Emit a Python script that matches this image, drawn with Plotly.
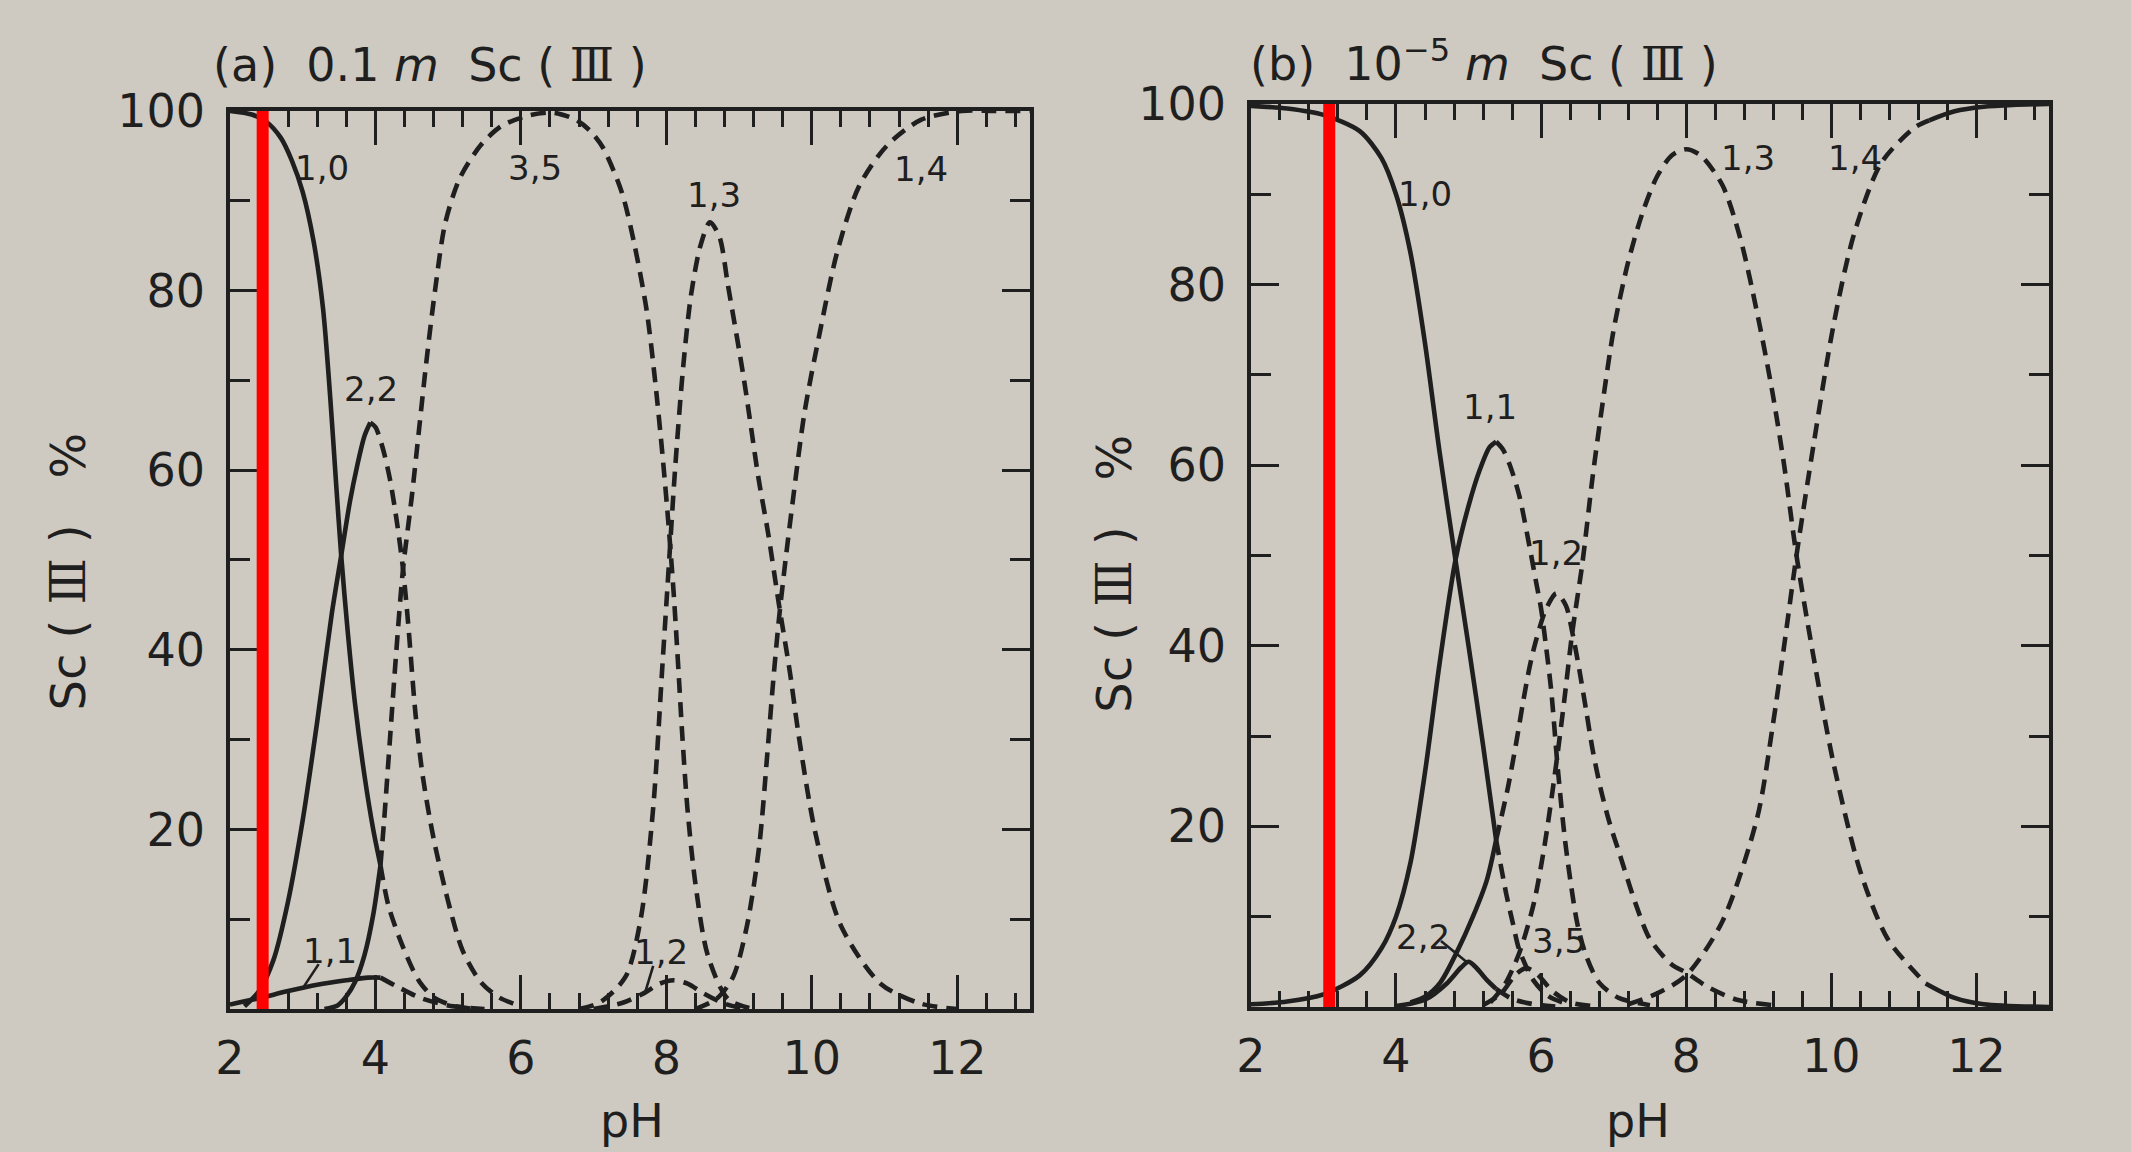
import plotly.graph_objects as go

# ---------------- panel (a): 0.1 m Sc(III) ----------------
a_10_ph = [2.0, 2.3, 2.5, 2.7, 2.85, 3.0, 3.15, 3.28, 3.38, 3.46, 3.53, 3.62, 3.72, 3.85, 3.97, 4.07]
a_10_pct = [100, 99.6, 98.8, 97, 94.5, 91, 85.5, 78, 68, 58.5, 50.5, 42, 34, 26, 20, 16]
a_10d_ph = [4.07, 4.18, 4.35, 4.52, 4.61, 4.8, 5.1, 5.4]
a_10d_pct = [16, 11.5, 7.5, 4.3, 3.0, 1.3, 0.3, 0]

a_22_ph = [2.2, 2.4, 2.6, 2.8, 3.0, 3.2, 3.4, 3.53, 3.65, 3.75, 3.85, 3.93]
a_22_pct = [0.3, 2.0, 5.5, 12, 21, 32, 44, 50.5, 56.5, 60.5, 63.8, 65.3]
a_22d_ph = [3.93, 4.0, 4.1, 4.2, 4.3, 4.38, 4.45, 4.55, 4.65, 4.8, 5.0, 5.2, 5.45, 5.7, 6.0]
a_22d_pct = [65.3, 64.8, 62.5, 59, 54, 49, 43, 33, 26, 19, 12, 6.5, 3.0, 1.3, 0.3]

a_11_ph = [2.0, 2.4, 2.8, 3.2, 3.6, 3.9, 4.07]
a_11_pct = [0.5, 1.2, 2.0, 2.7, 3.2, 3.5, 3.5]
a_11d_ph = [4.07, 4.3, 4.6, 5.0, 5.5]
a_11d_pct = [3.5, 2.5, 1.3, 0.4, 0]

a_35_ph = [3.3, 3.48, 3.6, 3.72, 3.85, 3.97, 4.07]
a_35_pct = [0, 0.4, 1.4, 3.0, 6.0, 10.5, 16]
a_35d_ph = [4.07, 4.12, 4.2, 4.28, 4.38, 4.5, 4.6, 4.7, 4.82, 4.96, 5.16, 5.45, 5.73, 6.11, 6.45,
            6.76, 6.95, 7.13, 7.39, 7.56, 7.73, 7.85, 7.95, 8.03, 8.1, 8.16, 8.22, 8.29, 8.4, 8.57, 8.85, 9.2]
a_35d_pct = [16, 21, 30, 39, 49, 57, 64.5, 72, 80, 87.5, 92.5, 96.2, 98.3, 99.5, 99.8,
             99.0, 97.8, 95.9, 90.9, 85.2, 77.8, 69.7, 61.5, 54, 46.5, 38.7, 30.5, 22.4, 14, 6, 1.1, 0]

a_12d_ph = [7.0, 7.4, 7.7, 7.9, 8.1, 8.3, 8.5, 8.8, 9.1]
a_12d_pct = [0, 0.7, 1.8, 2.8, 3.2, 2.8, 1.8, 0.6, 0]

a_13d_ph = [6.8, 7.1, 7.44, 7.65, 7.82, 7.95, 8.04, 8.12, 8.23, 8.34, 8.47, 8.6, 8.73, 8.85, 9.07,
            9.27, 9.4, 9.55, 9.7, 9.82, 10.04, 10.4, 10.95, 11.5, 12.0]
a_13d_pct = [0, 0.8, 3.6, 10.1, 22.4, 38.7, 50, 60, 71.3, 79.5, 85, 87.6, 86, 80.5, 70,
             59, 53, 45, 37.5, 30.5, 20, 9.3, 2.8, 0.6, 0]

a_14d_ph = [8.4, 8.7, 8.92, 9.11, 9.28, 9.39, 9.47, 9.55, 9.64, 9.74, 9.9, 10.11, 10.35, 10.65,
            11.03, 11.5, 12.06, 12.5, 13.0]
a_14d_pct = [0, 1.2, 3.6, 9.3, 18.3, 28.5, 36.5, 43.5, 50, 56.6, 66.4, 75.3, 84.3, 91.6,
             96.1, 99, 100, 100, 100]

a_label_text = ["1,0", "2,2", "1,1", "3,5", "1,2", "1,3", "1,4"]
a_label_ph = [3.27, 3.94, 3.37, 6.19, 7.93, 8.66, 11.5]
a_label_pct = [93.6, 69.0, 6.5, 93.6, 6.3, 90.6, 93.5]

# leader lines: label -> point on curve
a_leader_from = [(3.22, 5.0), (7.82, 4.8)]
a_leader_to = [(3.0, 2.3), (7.7, 1.6)]

# ---------------- panel (b): 1e-5 m Sc(III) ----------------
b_10_ph = [2.0, 2.5, 3.0, 3.5, 3.8, 4.0, 4.2, 4.4, 4.6, 4.82, 5.0, 5.2, 5.38]
b_10_pct = [99.8, 99.5, 98.8, 97, 94, 90, 83.5, 73.5, 61.5, 49.5, 40, 29, 18.5]
b_10d_ph = [5.38, 5.52, 5.61, 5.7, 5.89, 6.1, 6.4]
b_10d_pct = [18.5, 12.5, 9.3, 6.3, 3.0, 1.2, 0.2]

b_11_ph = [2.0, 2.5, 3.0, 3.5, 3.8, 4.0, 4.2, 4.4, 4.6, 4.82, 5.0, 5.16, 5.29, 5.38]
b_11_pct = [0.3, 0.6, 1.4, 3.5, 6.5, 10, 16, 26, 38, 49.5, 55.5, 59.6, 62, 62.6]
b_11d_ph = [5.38, 5.47, 5.57, 5.7, 5.84, 5.93, 6.0, 6.07, 6.14, 6.23, 6.34, 6.5, 6.62, 6.8, 7.07, 7.5]
b_11d_pct = [62.6, 61.8, 60, 56.6, 51, 47.1, 44.1, 39.8, 35, 26.4, 17.8, 9.2, 5.7, 2.7, 1.0, 0.2]

b_12_ph = [4.2, 4.41, 4.61, 4.84, 5.06, 5.25, 5.38]
b_12_pct = [0.5, 1.2, 2.7, 6.1, 10, 14, 18.5]
b_12d_ph = [5.38, 5.54, 5.66, 5.75, 5.84, 5.93, 6.07, 6.21, 6.34, 6.43, 6.53, 6.62, 6.71, 6.82,
            6.94, 7.08, 7.3, 7.5, 7.8, 8.0, 8.3, 8.7, 9.2]
b_12d_pct = [18.5, 24.2, 29.4, 33.7, 37.6, 40.6, 44.1, 45.8, 44.5, 41.5, 37.2, 32.9, 28.5, 24.2,
             20.5, 17, 11.5, 7.5, 4.7, 3.8, 2.2, 0.8, 0.2]

b_22_ph = [4.0, 4.4, 4.7, 4.9, 5.0, 5.1, 5.25, 5.38]
b_22_pct = [0.1, 0.8, 2.6, 4.4, 5.0, 4.4, 3.0, 2.0]
b_22d_ph = [5.38, 5.6, 5.9, 6.3]
b_22d_pct = [2.0, 0.9, 0.3, 0]

b_35d_ph = [5.2, 5.45, 5.65, 5.8, 5.95, 6.15, 6.4, 6.7]
b_35d_pct = [0.2, 1.5, 3.6, 4.3, 3.6, 1.8, 0.5, 0.1]

b_13d_ph = [5.3, 5.5, 5.7, 5.9, 6.05, 6.21, 6.32, 6.43, 6.57, 6.71, 6.85, 7.0, 7.2, 7.4, 7.6, 7.8,
            8.0, 8.2, 8.5, 8.75, 9.0, 9.19, 9.35, 9.52, 9.75, 10.03, 10.4, 10.78, 11.3]
b_13d_pct = [0.5, 2.5, 6, 11.5, 18, 27, 34, 41.5, 49.2, 58.7, 67, 75, 82.5, 88, 92, 94.3,
             95, 94.3, 91, 85, 76, 68, 60, 50, 39, 27, 15, 7.5, 2.6]
b_13_ph = [11.3, 11.7, 12.1, 13.0]
b_13_pct = [2.6, 1.0, 0.3, 0]

b_14d_ph = [7.2, 7.6, 8.0, 8.5, 8.98, 9.19, 9.35, 9.52, 9.75, 10.03, 10.31, 10.69, 11.15, 11.35]
b_14d_pct = [0.3, 1.5, 3.5, 9.5, 21, 31, 40, 50, 62, 75.5, 85.5, 93.5, 97.4, 98.2]
b_14_ph = [11.35, 11.7, 12.1, 12.5, 13.0]
b_14_pct = [98.2, 99.2, 99.7, 99.9, 100]

b_label_text = ["1,0", "1,1", "1,2", "2,2", "3,5", "1,3", "1,4"]
b_label_ph = [4.4, 5.3, 6.2, 4.37, 6.25, 8.85, 10.33]
b_label_pct = [90, 66.5, 50.3, 7.8, 7.3, 94, 94]

b_leader_from = [(4.62, 7.3)]
b_leader_to = [(4.97, 5.0)]

# red marker lines (pH)
marker_ph = [2.45, 3.08]

x_tick_vals = [2, 4, 6, 8, 10, 12]
y_tick_vals = [20, 40, 60, 80, 100]
y_minor_vals = [10, 30, 50, 70, 90]

INK = "#1f1f1f"
PAPER = "#cfcac1"
FONT = "DejaVu Sans"
ROMAN3 = "<span style='font-family:DejaVu Serif'>Ⅲ</span>"

fig = go.Figure()

def add_curve(xs, ys, axes, dashed):
    fig.add_trace(go.Scatter(
        x=xs, y=ys, mode="lines", xaxis=axes[0], yaxis=axes[1],
        line=dict(color=INK, width=4.6, dash="15px,9px" if dashed else "solid",
                  shape="spline", smoothing=0.8),
        showlegend=False, hoverinfo="skip"))

A = ("x", "y")
B = ("x2", "y2")

for xs, ys, d in [
    (a_10_ph, a_10_pct, False), (a_10d_ph, a_10d_pct, True),
    (a_22_ph, a_22_pct, False), (a_22d_ph, a_22d_pct, True),
    (a_11_ph, a_11_pct, False), (a_11d_ph, a_11d_pct, True),
    (a_35_ph, a_35_pct, False), (a_35d_ph, a_35d_pct, True),
    (a_12d_ph, a_12d_pct, True), (a_13d_ph, a_13d_pct, True),
    (a_14d_ph, a_14d_pct, True),
]:
    add_curve(xs, ys, A, d)

for xs, ys, d in [
    (b_10_ph, b_10_pct, False), (b_10d_ph, b_10d_pct, True),
    (b_11_ph, b_11_pct, False), (b_11d_ph, b_11d_pct, True),
    (b_12_ph, b_12_pct, False), (b_12d_ph, b_12d_pct, True),
    (b_22_ph, b_22_pct, False), (b_22d_ph, b_22d_pct, True),
    (b_35d_ph, b_35d_pct, True),
    (b_13d_ph, b_13d_pct, True), (b_13_ph, b_13_pct, False),
    (b_14d_ph, b_14d_pct, True), (b_14_ph, b_14_pct, False),
]:
    add_curve(xs, ys, B, d)

# leader lines
for frm, to in zip(a_leader_from, a_leader_to):
    add_curve([frm[0], to[0]], [frm[1], to[1]], A, False)
for frm, to in zip(b_leader_from, b_leader_to):
    add_curve([frm[0], to[0]], [frm[1], to[1]], B, False)
for tr in fig.data[-3:]:
    tr.line.width = 2.6

annotations = []
for t, xv, yv in zip(a_label_text, a_label_ph, a_label_pct):
    annotations.append(dict(text=t, x=xv, y=yv, xref="x", yref="y", showarrow=False,
                            font=dict(family=FONT, size=34, color=INK)))
for t, xv, yv in zip(b_label_text, b_label_ph, b_label_pct):
    annotations.append(dict(text=t, x=xv, y=yv, xref="x2", yref="y2", showarrow=False,
                            font=dict(family=FONT, size=34, color=INK)))

big = dict(family=FONT, size=46, color=INK)
annotations += [
    dict(text="(a)  0.1 <i>m</i>  Sc ( " + ROMAN3 + " )", x=0.099, y=0.944, xref="paper", yref="paper",
         xanchor="left", yanchor="middle", showarrow=False, font=big),
    dict(text="(b)  10<sup>−5</sup> <i>m</i>  Sc ( " + ROMAN3 + " )", x=0.5856, y=0.947,
         xref="paper", yref="paper",
         xanchor="left", yanchor="middle", showarrow=False, font=big),
    dict(text="Sc ( " + ROMAN3 + " )   %", x=0.032, y=0.504, xref="paper", yref="paper", textangle=-90,
         xanchor="center", yanchor="middle", showarrow=False, font=dict(family=FONT, size=48, color=INK)),
    dict(text="Sc ( " + ROMAN3 + " )   %", x=0.5228, y=0.502, xref="paper", yref="paper", textangle=-90,
         xanchor="center", yanchor="middle", showarrow=False, font=dict(family=FONT, size=48, color=INK)),
    dict(text="pH", x=0.2966, y=0.027, xref="paper", yref="paper",
         xanchor="center", yanchor="middle", showarrow=False, font=big),
    dict(text="pH", x=0.7687, y=0.027, xref="paper", yref="paper",
         xanchor="center", yanchor="middle", showarrow=False, font=big),
]

shapes = [
    dict(type="line", xref="x", yref="y", x0=marker_ph[0], x1=marker_ph[0], y0=0, y1=100.5,
         line=dict(color="#ff0000", width=12)),
    dict(type="line", xref="x2", yref="y2", x0=marker_ph[1], x1=marker_ph[1], y0=0, y1=100.3,
         line=dict(color="#ff0000", width=12)),
]

def xaxis_cfg(domain, anchor):
    return dict(domain=domain, anchor=anchor, range=[2, 13], tickmode="array", tickvals=x_tick_vals,
                ticks="inside", ticklen=34, tickwidth=3, tickcolor=INK,
                minor=dict(tick0=2, dtick=0.4, ticks="inside", ticklen=16, tickwidth=3, tickcolor=INK),
                showline=True, linewidth=3.5, linecolor=INK, mirror="ticks",
                showgrid=False, zeroline=False, tickfont=big, ticklabelstandoff=6,
                automargin=False)

def yaxis_cfg(domain, anchor):
    return dict(domain=domain, anchor=anchor, range=[0, 100], tickmode="array", tickvals=y_tick_vals,
                ticks="inside", ticklen=28, tickwidth=3, tickcolor=INK,
                minor=dict(tickvals=y_minor_vals, ticks="inside", ticklen=20, tickwidth=3,
                           tickcolor=INK),
                showline=True, linewidth=3.5, linecolor=INK, mirror="ticks",
                showgrid=False, zeroline=False, tickfont=big, ticklabelstandoff=12,
                automargin=False)

fig.update_layout(
    width=2131, height=1152,
    margin=dict(l=0, r=0, t=0, b=0, autoexpand=False),
    paper_bgcolor=PAPER, plot_bgcolor=PAPER,
    xaxis=xaxis_cfg([0.1079, 0.4833], "y"),
    yaxis=yaxis_cfg([0.1241, 0.9037], "x"),
    xaxis2=xaxis_cfg([0.587, 0.9615], "y2"),
    yaxis2=yaxis_cfg([0.1259, 0.9097], "x2"),
    annotations=annotations,
    shapes=shapes,
)

fig.write_html("out.html")
